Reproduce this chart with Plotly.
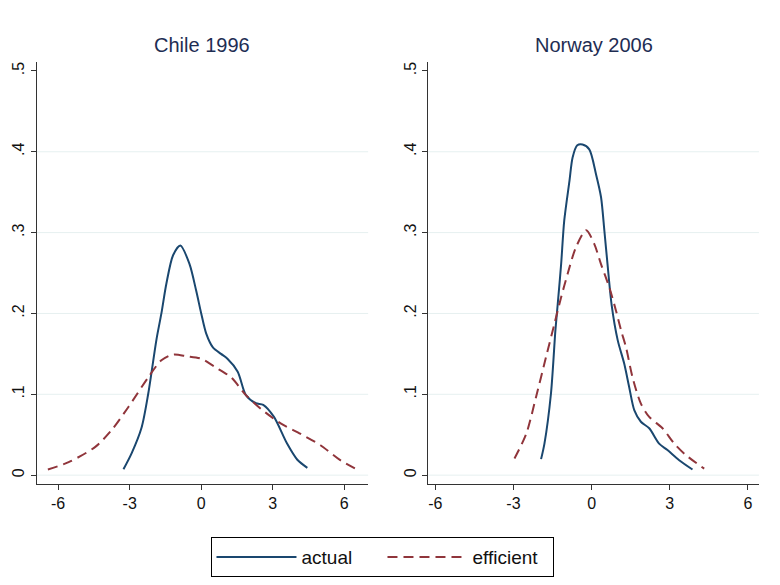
import plotly.graph_objects as go
from plotly.subplots import make_subplots

# Chile 1996
chile_actual_x = [-3.26, -2.92, -2.5, -2.22, -1.875, -1.67, -1.46, -1.18, -0.875, -0.49, -0.21, 0.0, 0.21, 0.49, 0.83, 1.1, 1.53, 1.875, 2.29, 2.6, 3.05, 3.6, 4.03, 4.45]
chile_actual_y = [0.0074, 0.027, 0.059, 0.101, 0.168, 0.2, 0.237, 0.272, 0.284, 0.261, 0.228, 0.2, 0.175, 0.158, 0.150, 0.144, 0.128, 0.099, 0.089, 0.087, 0.072, 0.039, 0.019, 0.009]
chile_eff_x = [-6.43, -5.56, -4.44, -3.75, -3.06, -2.22, -1.67, -1.18, -0.6, 0.0, 0.56, 1.25, 1.875, 2.5, 3.33, 4.17, 5.0, 5.83, 6.6]
chile_eff_y = [0.007, 0.016, 0.035, 0.056, 0.084, 0.121, 0.142, 0.149, 0.147, 0.144, 0.134, 0.121, 0.099, 0.082, 0.064, 0.051, 0.037, 0.0185, 0.006]

# Norway 2006
norway_actual_x = [-1.94, -1.81, -1.56, -1.39, -1.3, -1.17, -1.05, -0.85, -0.73, -0.55, -0.35, -0.09, 0.17, 0.36, 0.49, 0.61, 0.77, 1.0, 1.25, 1.44, 1.64, 1.89, 2.21, 2.59, 2.91, 3.36, 3.87]
norway_actual_y = [0.0198, 0.039, 0.101, 0.179, 0.212, 0.261, 0.315, 0.364, 0.393, 0.408, 0.409, 0.403, 0.372, 0.344, 0.302, 0.261, 0.21, 0.167, 0.138, 0.109, 0.08, 0.066, 0.058, 0.039, 0.031, 0.0185, 0.007]
norway_eff_x = [-2.96, -2.51, -2.13, -1.75, -1.43, -1.17, -0.92, -0.6, -0.21, 0.1, 0.36, 0.68, 0.93, 1.13, 1.32, 1.57, 1.89, 2.21, 2.72, 3.17, 3.62, 4.32]
norway_eff_y = [0.0206, 0.051, 0.097, 0.146, 0.187, 0.22, 0.249, 0.282, 0.303, 0.286, 0.261, 0.232, 0.204, 0.179, 0.158, 0.121, 0.0885, 0.072, 0.058, 0.039, 0.0247, 0.008]

titles = ["Chile 1996", "Norway 2006"]
x_ticks = [-6, -3, 0, 3, 6]
x_tick_labels = ["-6", "-3", "0", "3", "6"]
y_ticks = [0, 0.1, 0.2, 0.3, 0.4, 0.5]
y_tick_labels = ["0", ".1", ".2", ".3", ".4", ".5"]
grid_y = [0, 0.1, 0.2, 0.3, 0.4]

BLUE = "#1a476f"
RED = "#90353b"
GRID = "#e6f0f0"
FONT = "Liberation Sans, Arial, sans-serif"

fig = make_subplots(rows=1, cols=2)

line_kw = dict(width=2, shape="spline", smoothing=0.8)
fig.add_trace(go.Scatter(x=chile_actual_x, y=chile_actual_y, mode="lines", name="actual",
                         line=dict(color=BLUE, **line_kw), legendgroup="a"), 1, 1)
fig.add_trace(go.Scatter(x=chile_eff_x, y=chile_eff_y, mode="lines", name="efficient",
                         line=dict(color=RED, dash="10px,6px", **line_kw), legendgroup="e"), 1, 1)
fig.add_trace(go.Scatter(x=norway_actual_x, y=norway_actual_y, mode="lines", name="actual",
                         line=dict(color=BLUE, **line_kw), showlegend=False, legendgroup="a"), 1, 2)
fig.add_trace(go.Scatter(x=norway_eff_x, y=norway_eff_y, mode="lines", name="efficient",
                         line=dict(color=RED, dash="10px,6px", **line_kw), showlegend=False, legendgroup="e"), 1, 2)

ydom = [0.1726, 0.894]
axis_common = dict(showline=True, linecolor="#333333", linewidth=1, ticks="outside",
                   ticklen=5, tickcolor="#333333", tickfont=dict(family=FONT, size=16, color="#111111"),
                   zeroline=False, showgrid=False)

fig.update_layout(
    xaxis=dict(domain=[0.047, 0.472], range=[-6.9, 7.0], tickvals=x_ticks, ticktext=x_tick_labels,
               **axis_common),
    xaxis2=dict(domain=[0.549, 0.973], range=[-6.27, 6.42], tickvals=x_ticks, ticktext=x_tick_labels,
                **axis_common),
    yaxis=dict(domain=ydom, range=[-0.011, 0.511], tickvals=y_ticks, ticktext=y_tick_labels,
               tickangle=-90, **axis_common),
    yaxis2=dict(domain=ydom, range=[-0.011, 0.511], tickvals=y_ticks, ticktext=y_tick_labels,
                tickangle=-90, **axis_common),
    width=780, height=585,
    margin=dict(l=0, r=0, t=0, b=0),
    paper_bgcolor="white", plot_bgcolor="white",
    showlegend=True,
    legend=dict(orientation="h", x=0.491, xanchor="center", y=0.082, yanchor="top",
                bordercolor="#000000", borderwidth=1, bgcolor="white",
                font=dict(family=FONT, size=19, color="#111111"), itemwidth=80,
                entrywidth=76, entrywidthmode="pixels", tracegroupgap=0),
    font=dict(family=FONT),
)

# gridlines (0 to .4 only, as in the original)
for xr, yr in (("x domain", "y"), ("x2 domain", "y2")):
    for gy in grid_y:
        fig.add_shape(type="line", xref=xr, yref=yr, x0=0, x1=1, y0=gy, y1=gy,
                      line=dict(color=GRID, width=1), layer="below")

centers = [(0.047 + 0.472) / 2, (0.549 + 0.973) / 2]
for t, cx in zip(titles, centers):
    fig.add_annotation(text=t, x=cx, y=(585 - 45) / 585, xref="paper", yref="paper",
                       xanchor="center", yanchor="middle", showarrow=False,
                       font=dict(family=FONT, size=20, color="#1e2d53"))

fig.write_html("out.html")
